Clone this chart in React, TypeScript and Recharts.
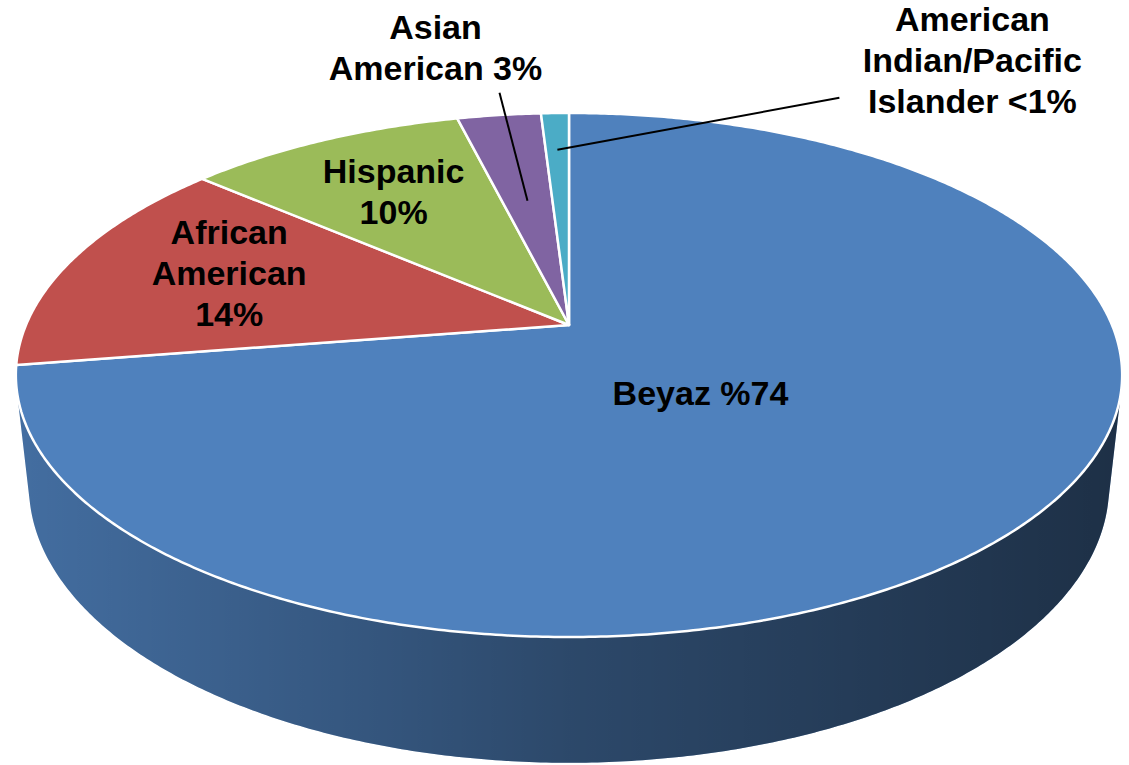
// 3D perspective pie of population shares, drawn through Recharts Pie angles
import * as React from 'react';
import { PieChart, Pie } from 'recharts';

const GROUPS = ['Beyaz', 'African American', 'Hispanic', 'Asian American', 'American Indian/Pacific Islander'];
const SHARES = [74, 14, 10, 3, 1];
const LABELS = [
  ['Beyaz %74'],
  ['African', 'American', '14%'],
  ['Hispanic', '10%'],
  ['Asian', 'American 3%'],
  ['American', 'Indian/Pacific', 'Islander <1%'],
];
const COLORS = ['#4F81BD', '#C0504D', '#9BBB59', '#8064A2', '#4BACC6'];

const data = GROUPS.map((name, i) => ({ name, value: SHARES[i] }));

// camera: tilt of the view and distance (in pie radii), pie thickness
const TILT_SIN = 0.465;
const TILT_COS = 0.885;
const DIST = 4.638;
const DEPTH = 0.233;
const SILHOUETTE = (Math.asin(1 / (DIST * TILT_COS)) * 180) / Math.PI;

// label placement: radius in pie units, then offsets for text / leader line
const LABEL_LAYOUT: any[] = [
  { r: 0.3, dx: 3, dy: 17 },
  { r: 0.69, dx: 8, dy: -6 },
  { r: 0.69, dx: 2, dy: 0 },
  { r: 0.55, dx: -92, dy: -153, line: [-28, -108] },
  { r: 0.8, dx: 415, dy: -90, line: [282, -52] },
];

function project(cx: number, cy: number, R: number, deg: number, r: number, w: number) {
  const t = (deg * Math.PI) / 180;
  const u = r * Math.cos(t);
  const v = -r * Math.sin(t);
  const den = 1 - (v * TILT_COS + w * TILT_SIN) / DIST;
  return [cx + (R * u) / den, cy + (R * (v * TILT_SIN - w * TILT_COS)) / den];
}

function arc(cx: number, cy: number, R: number, a0: number, a1: number, w: number) {
  const steps = Math.max(2, Math.ceil(Math.abs(a1 - a0) / 0.5));
  const pts = [];
  for (let i = 0; i <= steps; i++) {
    pts.push(project(cx, cy, R, a0 + ((a1 - a0) * i) / steps, 1, w));
  }
  return pts;
}

const toPath = (pts: number[][]) =>
  'M' + pts.map((p) => `${p[0].toFixed(2)},${p[1].toFixed(2)}`).join('L') + 'Z';

function renderSlice(props: any) {
  const { cx, cy, outerRadius, startAngle, endAngle, index } = props;
  const lo = Math.min(startAngle, endAngle);
  const hi = Math.max(startAngle, endAngle);
  const v0 = -180 + SILHOUETTE;
  const v1 = -SILHOUETTE;
  const sides = [];
  for (const shift of [-720, -360, 0, 360]) {
    const a = Math.max(lo + shift, v0);
    const b = Math.min(hi + shift, v1);
    if (b > a) {
      const pts = [...arc(cx, cy, outerRadius, a, b, 0), ...arc(cx, cy, outerRadius, b, a, -DEPTH)];
      sides.push(
        <g key={`side-${shift}`}>
          <path d={toPath(pts)} fill={COLORS[index]} stroke="none" />
          <path d={toPath(pts)} fill="url(#sideShade)" stroke="none" />
        </g>
      );
    }
  }
  const top = [[cx, cy], ...arc(cx, cy, outerRadius, startAngle, endAngle, 0)];
  return (
    <g key={`slice-${index}`}>
      {sides}
      <path d={toPath(top)} fill={COLORS[index]} stroke="#ffffff" strokeWidth={2.5} strokeLinejoin="round" />
    </g>
  );
}

function renderText(props: any) {
  const { cx, cy, outerRadius, midAngle, index } = props;
  const lay = LABEL_LAYOUT[index];
  const [ax, ay] = project(cx, cy, outerRadius, midAngle, lay.r, 0);
  const lines = LABELS[index];
  const tx = ax + lay.dx;
  const ty = ay + lay.dy;
  return (
    <g key={`label-${index}`}>
      {lay.line && (
        <line x1={ax} y1={ay} x2={ax + lay.line[0]} y2={ay + lay.line[1]} stroke="#000" strokeWidth={2} />
      )}
      <text
        x={tx}
        y={ty}
        textAnchor="middle"
        fill="#000"
        fontFamily="'Liberation Sans', Arial, sans-serif"
        fontWeight="bold"
        fontSize={34}
      >
        {lines.map((t, i) => (
          <tspan key={i} x={tx} y={ty + (i - (lines.length - 1) / 2) * 41 + 12}>
            {t}
          </tspan>
        ))}
      </text>
    </g>
  );
}

export default function App() {
  const cx = 569;
  const cy = 325;
  const R = 543;
  return (
    <div style={{ position: 'absolute', left: 0, top: 0, width: 1129, height: 765, background: '#fff' }}>
      <PieChart width={1129} height={765} margin={{ top: 0, right: 0, bottom: 0, left: 0 }}>
        <defs>
          <linearGradient id="sideShade" gradientUnits="userSpaceOnUse" x1={cx - R * 1.02} y1={0} x2={cx + R * 1.02} y2={0}>
            <stop offset="0" stopColor="#000" stopOpacity={0.15} />
            <stop offset="0.5" stopColor="#000" stopOpacity={0.44} />
            <stop offset="1" stopColor="#000" stopOpacity={0.63} />
          </linearGradient>
        </defs>
        <Pie
          data={data}
          dataKey="value"
          nameKey="name"
          cx={cx}
          cy={cy}
          outerRadius={R}
          startAngle={90}
          endAngle={-270}
          fill="none"
          stroke="none"
          label={renderSlice}
          labelLine={false}
          isAnimationActive={false}
        />
        <Pie
          data={data}
          dataKey="value"
          nameKey="name"
          cx={cx}
          cy={cy}
          outerRadius={R}
          startAngle={90}
          endAngle={-270}
          fill="none"
          stroke="none"
          label={renderText}
          labelLine={false}
          isAnimationActive={false}
        />
      </PieChart>
    </div>
  );
}
